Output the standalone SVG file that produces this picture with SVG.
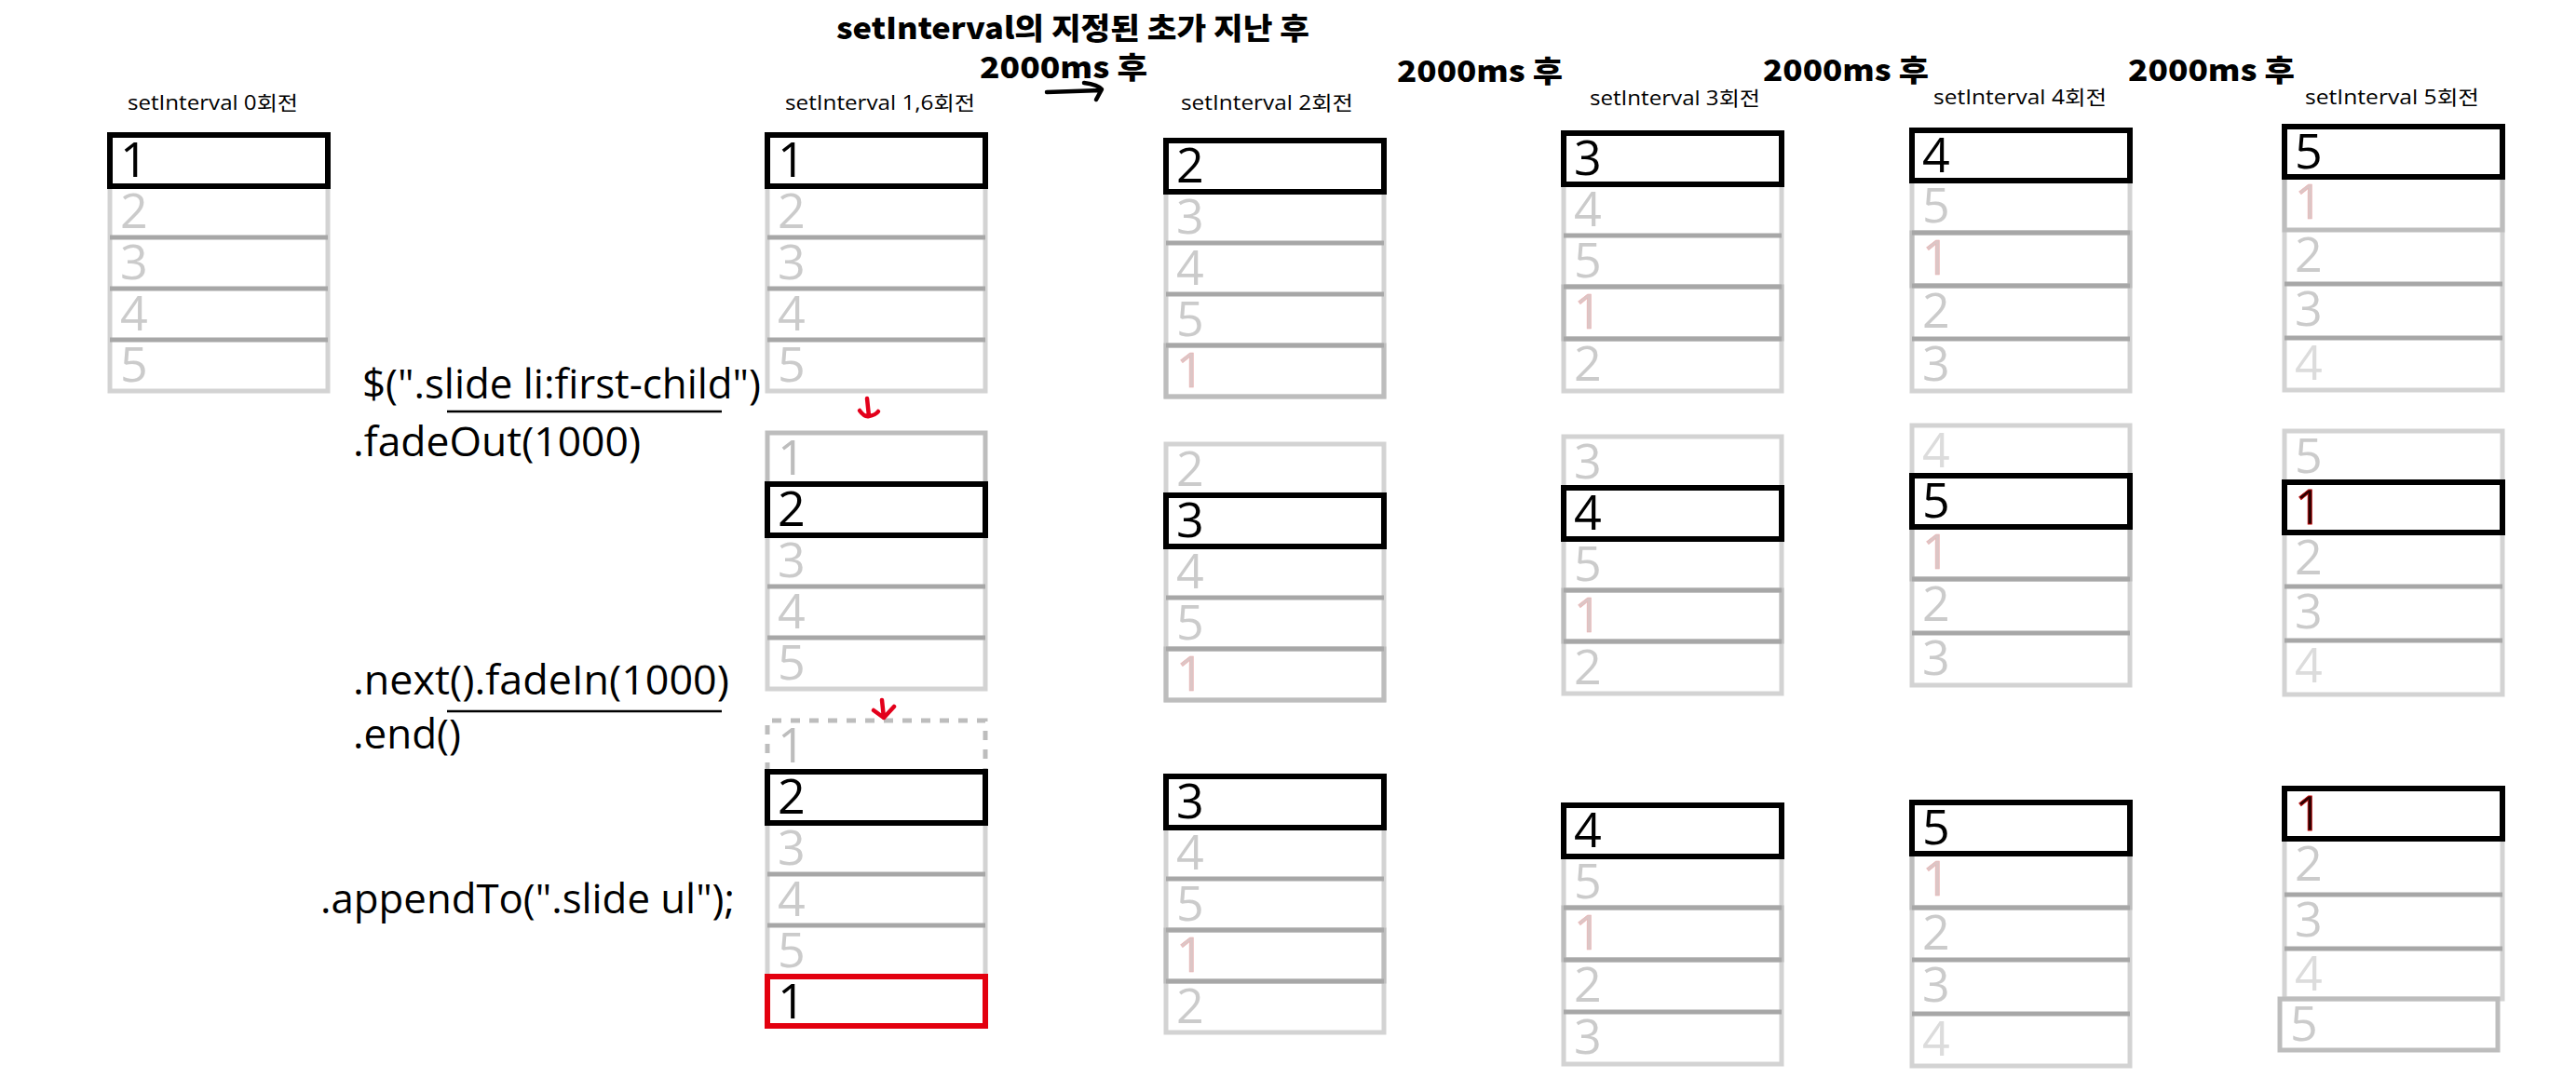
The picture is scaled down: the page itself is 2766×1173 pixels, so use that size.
<svg xmlns="http://www.w3.org/2000/svg" width="2766" height="1173" viewBox="0 0 2766 1173">
<style>
.lbl{font-family:"Open Sans","Noto Sans CJK KR",sans-serif;font-size:21px;fill:#000}
.ttl{font-family:"Noto Sans CJK KR","Noto Sans",sans-serif;font-weight:900;font-size:32px;fill:#000}
.code{font-family:"Open Sans","Noto Sans",sans-serif;font-size:43px;fill:#000}
.d{font-family:"Open Sans","Noto Sans",sans-serif;font-size:52px}
.dk{fill:#000}.lt{fill:#cbcbcb}.lt2{fill:#dcdcdc}.p{fill:#dcc6c6;stroke:#e9b0b0;stroke-width:0.6}.gy{fill:#bdbdbd}.rd{fill:#2a0000;stroke:#c00000;stroke-width:0.8}
.g{fill:none;stroke:#d3d3d3;stroke-width:5}
.m{fill:none;stroke:#bdbdbd;stroke-width:5}
.s{fill:none;stroke:#a7a7a7;stroke-width:5}
.hb{fill:none;stroke:#000;stroke-width:6}
.red{fill:none;stroke:#e3000f;stroke-width:6}
.dash{fill:none;stroke:#bdbdbd;stroke-width:5;stroke-dasharray:10 10}
.ul{stroke:#000;stroke-width:2.5}
.ra{fill:none;stroke:#e3001b;stroke-width:4.5;stroke-linecap:round;stroke-linejoin:round}
.ba{fill:none;stroke:#000;stroke-width:4.5;stroke-linecap:round;stroke-linejoin:round}
</style>
<rect width="2766" height="1173" fill="#fff"/>

<g id="title">
<text class="ttl" x="898" y="42" textLength="508" lengthAdjust="spacingAndGlyphs">setInterval의 지정된 초가 지난 후</text>
<text class="ttl" x="1052" y="84" textLength="180" lengthAdjust="spacingAndGlyphs">2000ms 후</text>
<text class="ttl" x="1500" y="88" textLength="178" lengthAdjust="spacingAndGlyphs">2000ms 후</text>
<text class="ttl" x="1893" y="87" textLength="178" lengthAdjust="spacingAndGlyphs">2000ms 후</text>
<text class="ttl" x="2285" y="87" textLength="179" lengthAdjust="spacingAndGlyphs">2000ms 후</text>
</g>

<g id="labels">
<text class="lbl" x="137" y="118" textLength="183" lengthAdjust="spacingAndGlyphs">setInterval 0회전</text>
<text class="lbl" x="843" y="118" textLength="204" lengthAdjust="spacingAndGlyphs">setInterval 1,6회전</text>
<text class="lbl" x="1268" y="118" textLength="185" lengthAdjust="spacingAndGlyphs">setInterval 2회전</text>
<text class="lbl" x="1707" y="113" textLength="183" lengthAdjust="spacingAndGlyphs">setInterval 3회전</text>
<text class="lbl" x="2076" y="112" textLength="186" lengthAdjust="spacingAndGlyphs">setInterval 4회전</text>
<text class="lbl" x="2475" y="112" textLength="187" lengthAdjust="spacingAndGlyphs">setInterval 5회전</text>
</g>

<g id="code">
<text class="code" x="389" y="428" textLength="428" lengthAdjust="spacingAndGlyphs">$(".slide li:first-child")</text>
<line class="ul" x1="480" y1="442" x2="775" y2="442"/>
<text class="code" x="379" y="490" textLength="309" lengthAdjust="spacingAndGlyphs">.fadeOut(1000)</text>
<text class="code" x="379" y="746" textLength="404" lengthAdjust="spacingAndGlyphs">.next().fadeIn(1000)</text>
<line class="ul" x1="480" y1="764" x2="775" y2="764"/>
<text class="code" x="379" y="804" textLength="116" lengthAdjust="spacingAndGlyphs">.end()</text>
<text class="code" x="344" y="981" textLength="445" lengthAdjust="spacingAndGlyphs">.appendTo(".slide ul");</text>
</g>

<g id="colA-top">
<rect class="g" x="118" y="200" width="234" height="220"/>
<path class="s" d="M118 255H352M118 310H352M118 365H352"/>
<rect class="hb" x="118" y="145" width="234" height="55"/>
<text class="d dk" x="129" y="190">1</text>
<text class="d lt" x="129" y="245">2</text>
<text class="d lt" x="129" y="300">3</text>
<text class="d lt" x="129" y="355">4</text>
<text class="d lt" x="129" y="410">5</text>
</g>

<g id="colB-top">
<rect class="g" x="824" y="200" width="234" height="220"/>
<path class="s" d="M824 255H1058M824 310H1058M824 365H1058"/>
<rect class="hb" x="824" y="145" width="234" height="55"/>
<text class="d dk" x="835" y="190">1</text>
<text class="d lt" x="835" y="245">2</text>
<text class="d lt" x="835" y="300">3</text>
<text class="d lt" x="835" y="355">4</text>
<text class="d lt" x="835" y="410">5</text>
</g>

<g id="colB-mid">
<rect class="m" x="824" y="465" width="234" height="55"/>
<rect class="g" x="824" y="575" width="234" height="165"/>
<path class="s" d="M824 630H1058M824 685H1058"/>
<rect class="hb" x="824" y="520" width="234" height="55"/>
<text class="d gy" x="835" y="510">1</text>
<text class="d dk" x="835" y="565">2</text>
<text class="d lt" x="835" y="620">3</text>
<text class="d lt" x="835" y="675">4</text>
<text class="d lt" x="835" y="730">5</text>
</g>

<g id="colB-bot">
<path class="dash" d="M824 829V774H1058V829"/>
<rect class="g" x="824" y="884" width="234" height="165"/>
<path class="s" d="M824 939H1058M824 994H1058"/>
<rect class="hb" x="824" y="829" width="234" height="55"/>
<rect class="red" x="824" y="1049" width="234" height="53"/>
<text class="d gy" x="835" y="819">1</text>
<text class="d dk" x="835" y="874">2</text>
<text class="d lt" x="835" y="929">3</text>
<text class="d lt" x="835" y="984">4</text>
<text class="d lt" x="835" y="1039">5</text>
<text class="d dk" x="835" y="1094">1</text>
</g>

<g id="colC-top">
<rect class="g" x="1252" y="206" width="234" height="220"/>
<rect class="m" x="1252" y="371" width="234" height="55"/>
<path class="s" d="M1252 261H1486M1252 316H1486M1252 371H1486"/>
<rect class="hb" x="1252" y="151" width="234" height="55"/>
<text class="d dk" x="1263" y="196">2</text>
<text class="d lt" x="1263" y="251">3</text>
<text class="d lt" x="1263" y="306">4</text>
<text class="d lt" x="1263" y="361">5</text>
<text class="d p" x="1263" y="416">1</text>
</g>

<g id="colC-mid">
<rect class="g" x="1252" y="477" width="234" height="275"/>
<rect class="m" x="1252" y="697" width="234" height="55"/>
<path class="s" d="M1252 642H1486M1252 697H1486"/>
<rect class="hb" x="1252" y="532" width="234" height="55"/>
<text class="d lt" x="1263" y="522">2</text>
<text class="d dk" x="1263" y="577">3</text>
<text class="d lt" x="1263" y="632">4</text>
<text class="d lt" x="1263" y="687">5</text>
<text class="d p" x="1263" y="742">1</text>
</g>

<g id="colC-bot">
<rect class="g" x="1252" y="889" width="234" height="220"/>
<rect class="m" x="1252" y="999" width="234" height="55"/>
<path class="s" d="M1252 944H1486M1252 999H1486M1252 1054H1486"/>
<rect class="hb" x="1252" y="834" width="234" height="55"/>
<text class="d dk" x="1263" y="879">3</text>
<text class="d lt" x="1263" y="934">4</text>
<text class="d lt" x="1263" y="989">5</text>
<text class="d p" x="1263" y="1044">1</text>
<text class="d lt" x="1263" y="1099">2</text>
</g>

<g id="colD-top">
<rect class="g" x="1679" y="198" width="234" height="222"/>
<rect class="m" x="1679" y="308" width="234" height="56"/>
<path class="s" d="M1679 253H1913M1679 308H1913M1679 364H1913"/>
<rect class="hb" x="1679" y="143" width="234" height="55"/>
<text class="d dk" x="1690" y="188">3</text>
<text class="d lt" x="1690" y="243">4</text>
<text class="d lt" x="1690" y="298">5</text>
<text class="d p" x="1690" y="353">1</text>
<text class="d lt" x="1690" y="409">2</text>
</g>

<g id="colD-mid">
<rect class="g" x="1679" y="469" width="234" height="276"/>
<rect class="m" x="1679" y="634" width="234" height="55"/>
<path class="s" d="M1679 634H1913M1679 689H1913"/>
<rect class="hb" x="1679" y="524" width="234" height="55"/>
<text class="d lt" x="1690" y="514">3</text>
<text class="d dk" x="1690" y="569">4</text>
<text class="d lt" x="1690" y="624">5</text>
<text class="d p" x="1690" y="679">1</text>
<text class="d lt" x="1690" y="735">2</text>
</g>

<g id="colD-bot">
<rect class="g" x="1679" y="920" width="234" height="223"/>
<rect class="m" x="1679" y="975" width="234" height="56"/>
<path class="s" d="M1679 975H1913M1679 1031H1913M1679 1087H1913"/>
<rect class="hb" x="1679" y="865" width="234" height="55"/>
<text class="d dk" x="1690" y="910">4</text>
<text class="d lt" x="1690" y="965">5</text>
<text class="d p" x="1690" y="1020">1</text>
<text class="d lt" x="1690" y="1076">2</text>
<text class="d lt" x="1690" y="1132">3</text>
</g>

<g id="colE-top">
<rect class="g" x="2053" y="194" width="234" height="226"/>
<rect class="m" x="2053" y="250" width="234" height="57"/>
<path class="s" d="M2053 250H2287M2053 307H2287M2053 364H2287"/>
<rect class="hb" x="2053" y="140" width="234" height="54"/>
<text class="d dk" x="2064" y="185">4</text>
<text class="d lt" x="2064" y="239">5</text>
<text class="d p" x="2064" y="295">1</text>
<text class="d lt" x="2064" y="352">2</text>
<text class="d lt" x="2064" y="409">3</text>
</g>

<g id="colE-mid">
<rect class="g" x="2053" y="457" width="234" height="279"/>
<rect class="m" x="2053" y="566" width="234" height="56"/>
<path class="s" d="M2053 622H2287M2053 680H2287"/>
<rect class="hb" x="2053" y="511" width="234" height="55"/>
<text class="d lt2" x="2064" y="502">4</text>
<text class="d dk" x="2064" y="556">5</text>
<text class="d p" x="2064" y="611">1</text>
<text class="d lt" x="2064" y="667">2</text>
<text class="d lt" x="2064" y="725">3</text>
</g>

<g id="colE-bot">
<rect class="g" x="2053" y="917" width="234" height="228"/>
<rect class="m" x="2053" y="917" width="234" height="58"/>
<path class="s" d="M2053 975H2287M2053 1031H2287M2053 1089H2287"/>
<rect class="hb" x="2053" y="862" width="234" height="55"/>
<text class="d dk" x="2064" y="907">5</text>
<text class="d p" x="2064" y="962">1</text>
<text class="d lt" x="2064" y="1020">2</text>
<text class="d lt" x="2064" y="1076">3</text>
<text class="d lt2" x="2064" y="1134">4</text>
</g>

<g id="colF-top">
<rect class="g" x="2453" y="190" width="234" height="229"/>
<rect class="m" x="2453" y="190" width="234" height="57"/>
<path class="s" d="M2453 305H2687M2453 363H2687"/>
<rect class="hb" x="2453" y="136" width="234" height="54"/>
<text class="d dk" x="2464" y="181">5</text>
<text class="d p" x="2464" y="235">1</text>
<text class="d lt" x="2464" y="292">2</text>
<text class="d lt" x="2464" y="350">3</text>
<text class="d lt2" x="2464" y="408">4</text>
</g>

<g id="colF-mid">
<rect class="g" x="2453" y="463" width="234" height="283"/>
<path class="s" d="M2453 630H2687M2453 688H2687"/>
<rect class="hb" x="2453" y="518" width="234" height="54"/>
<text class="d lt" x="2464" y="508">5</text>
<text class="d rd" x="2464" y="563">1</text>
<text class="d lt" x="2464" y="617">2</text>
<text class="d lt" x="2464" y="675">3</text>
<text class="d lt2" x="2464" y="733">4</text>
</g>

<g id="colF-bot">
<rect class="g" x="2453" y="901" width="234" height="172"/>
<rect class="m" x="2448" y="1073" width="234" height="55"/>
<path class="s" d="M2453 961H2687M2453 1019H2687"/>
<rect class="hb" x="2453" y="847" width="234" height="54"/>
<text class="d rd" x="2464" y="892">1</text>
<text class="d lt" x="2464" y="946">2</text>
<text class="d lt" x="2464" y="1006">3</text>
<text class="d lt2" x="2464" y="1064">4</text>
<text class="d lt" x="2459" y="1118">5</text>
</g>

<g id="connectors">
<path class="ba" d="M1124 99L1182 97M1164 89Q1179 91 1183 96L1177 107"/>
<path class="ra" d="M931 428L933 447M923 441Q928 448 933 447Q940 446 943 442"/>
<path class="ra" d="M947 752L949 771M938 763L949 771L960 759"/>
</g>
</svg>
